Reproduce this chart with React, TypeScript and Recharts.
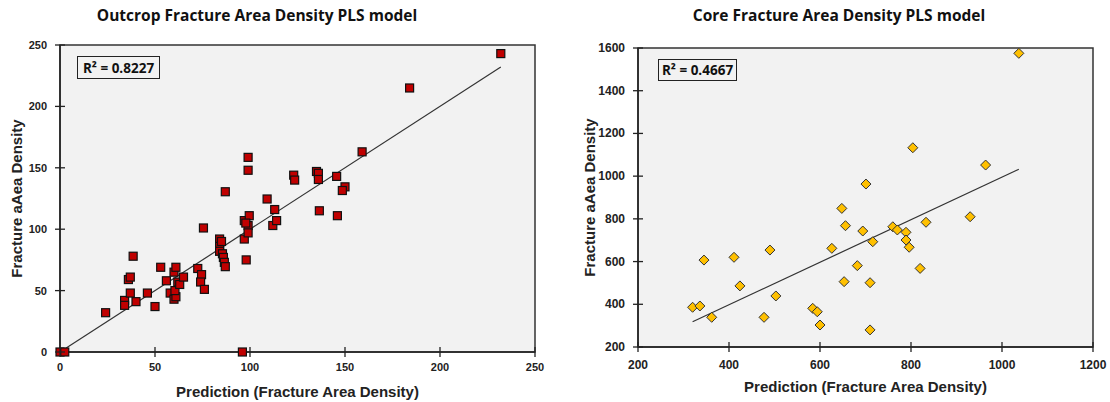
import { ScatterChart, Scatter, XAxis, YAxis, ReferenceArea, ReferenceLine } from "recharts"

// outcrop model: predicted vs measured fracture area density
const outcropPredicted = [
  0, 2.5, 96, 24, 34, 34, 40, 37, 36, 37, 38.5, 46, 50, 53, 56, 58, 60, 61, 60.5, 60, 61, 62, 63, 65,
  72.5, 74.5, 74, 76, 75.5, 84, 84, 84, 85.5, 86, 86.5, 87, 85, 87, 97, 97, 98, 99.6, 99, 99, 97.8, 99, 99,
  112, 114, 113, 109, 123, 123.5, 135, 136, 136, 145.6, 150, 148.6, 136.5, 146, 159, 184, 232,
]
const outcropMeasured = [
  0, 0, 0, 32, 42, 38, 41, 48, 59, 61, 78, 48, 37, 69, 58, 48, 43, 45, 50, 65, 69, 57, 55, 61,
  68, 63, 57, 51, 101, 92, 86, 82, 80, 77, 73, 69.5, 90, 130.5, 107, 92, 75, 111, 103, 97, 105, 158.5, 148,
  103, 107, 116, 124.6, 144, 140, 147, 145.5, 140.5, 143, 134.5, 131.5, 115, 111, 163, 215, 243,
]
const outcropFitX = [0, 232]
const outcropFitY = [0, 232]
const outcropTicks = [0, 50, 100, 150, 200, 250]

// core model
const corePredicted = [
  320, 336, 362, 345, 411, 424, 490, 503, 477, 584, 594, 600, 626, 648, 656, 653, 682, 694, 701, 716,
  710, 710, 760, 770, 789, 789, 796, 804, 820, 833, 930, 964, 1037,
]
const coreMeasured = [
  386, 392, 339, 607, 620, 486, 654, 439, 339, 381, 365, 303, 662, 849, 768, 506, 581, 743, 963, 693,
  501, 280, 763, 748, 737, 701, 667, 1133, 568, 784, 810, 1052, 1575,
]
const coreFitX = [320, 1037]
const coreFitY = [318, 1032]
const coreXTicks = [200, 400, 600, 800, 1000, 1200]
const coreYTicks = [200, 400, 600, 800, 1000, 1200, 1400, 1600]

const outcropData = outcropPredicted.map((x, i) => ({ x, y: outcropMeasured[i] }))
const coreData = corePredicted.map((x, i) => ({ x, y: coreMeasured[i] }))

const AXIS = "#222"
const FONT = "'Liberation Sans', Arial, sans-serif"

const makeXTick = (fontSize: number, dy: number) => (p: any) => (
  <g>
    <line x1={p.x} x2={p.x} y1={p.y - 5} y2={p.y + 5} stroke={AXIS} strokeWidth={1.3} />
    <text x={p.x} y={p.y + dy} textAnchor="middle" fontSize={fontSize} fontWeight="bold" fill={AXIS} fontFamily={FONT}>
      {p.payload.value}
    </text>
  </g>
)

const makeYTick = (fontSize: number) => (p: any) => (
  <g>
    <line x1={p.x - 5} x2={p.x + 5} y1={p.y} y2={p.y} stroke={AXIS} strokeWidth={1.3} />
    <text x={p.x - 13} y={p.y + 4} textAnchor="end" fontSize={fontSize} fontWeight="bold" fill={AXIS} fontFamily={FONT}>
      {p.payload.value}
    </text>
  </g>
)

const Square = (p: any) => (
  <rect x={p.cx - 4} y={p.cy - 4} width={8} height={8} fill="#c00000" stroke="#111" strokeWidth={1.2} />
)

const Diamond = (p: any) => (
  <polygon
    points={`${p.cx},${p.cy - 5} ${p.cx + 5},${p.cy} ${p.cx},${p.cy + 5} ${p.cx - 5},${p.cy}`}
    fill="#ffc000"
    stroke="#333"
    strokeWidth={1}
  />
)

const labelStyle = { fontSize: 15, fontWeight: "bold", fill: AXIS, fontFamily: FONT }

const titleStyle: any = {
  position: "absolute",
  top: 5,
  fontSize: 15.5,
  lineHeight: "20px",
  fontWeight: "bold",
  fontFamily: "'Open Sans', sans-serif",
  color: "#111",
  whiteSpace: "nowrap",
  transform: "translateX(-50%)",
}

const boxStyle: any = {
  position: "absolute",
  border: "1.5px solid #222",
  background: "#f2f2f2",
  fontFamily: "'Open Sans', sans-serif",
  fontWeight: "bold",
  fontSize: 13.5,
  color: "#111",
  display: "flex",
  alignItems: "center",
  justifyContent: "center",
  boxSizing: "border-box",
}

export default function App() {
  return (
    <div style={{ position: "absolute", left: 0, top: 0, width: 1110, height: 402, background: "#fff" }}>
      <div style={{ position: "absolute", left: 0, top: 0 }}>
        <ScatterChart width={555} height={402} margin={{ top: 45, right: 20, bottom: 0, left: 0 }}>
          <ReferenceArea x1={0} x2={250} y1={0} y2={250} fill="#f2f2f2" fillOpacity={1} stroke="#333" strokeWidth={1.5} />
          <XAxis
            type="number"
            dataKey="x"
            domain={[0, 250]}
            ticks={outcropTicks}
            height={50}
            tickSize={0}
            tickMargin={0}
            tickLine={false}
            axisLine={{ stroke: AXIS, strokeWidth: 1.5 }}
            tick={makeXTick(11, 19)}
            label={{ value: "Prediction (Fracture Area Density)", position: "insideBottom", offset: 5, style: labelStyle }}
          />
          <YAxis
            type="number"
            dataKey="y"
            domain={[0, 250]}
            ticks={outcropTicks}
            width={60}
            tickSize={0}
            tickMargin={0}
            tickLine={false}
            axisLine={{ stroke: AXIS, strokeWidth: 1.5 }}
            tick={makeYTick(11)}
            label={{ value: "Fracture aAea Density", angle: -90, position: "insideLeft", offset: 17, style: { ...labelStyle, textAnchor: "middle" } }}
          />
          <ReferenceLine
            segment={[
              { x: outcropFitX[0], y: outcropFitY[0] },
              { x: outcropFitX[1], y: outcropFitY[1] },
            ]}
            stroke="#333"
            strokeWidth={1.2}
          />
          <Scatter data={outcropData} shape={Square} isAnimationActive={false} />
        </ScatterChart>
      </div>
      <div style={{ position: "absolute", left: 555, top: 0 }}>
        <ScatterChart width={555} height={402} margin={{ top: 48, right: 17, bottom: 0, left: 0 }}>
          <ReferenceArea x1={200} x2={1200} y1={200} y2={1600} fill="#f2f2f2" fillOpacity={1} stroke="#333" strokeWidth={1.5} />
          <XAxis
            type="number"
            dataKey="x"
            domain={[200, 1200]}
            ticks={coreXTicks}
            height={55}
            tickSize={0}
            tickMargin={0}
            tickLine={false}
            axisLine={{ stroke: AXIS, strokeWidth: 1.5 }}
            tick={makeXTick(12, 22)}
            label={{ value: "Prediction (Fracture Area Density)", position: "insideBottom", offset: 10, style: labelStyle }}
          />
          <YAxis
            type="number"
            dataKey="y"
            domain={[200, 1600]}
            ticks={coreYTicks}
            width={83}
            tickSize={0}
            tickMargin={0}
            tickLine={false}
            axisLine={{ stroke: AXIS, strokeWidth: 1.5 }}
            tick={makeYTick(12)}
            label={{ value: "Fracture aAea Density", angle: -90, position: "insideLeft", offset: 35, style: { ...labelStyle, textAnchor: "middle" } }}
          />
          <ReferenceLine
            segment={[
              { x: coreFitX[0], y: coreFitY[0] },
              { x: coreFitX[1], y: coreFitY[1] },
            ]}
            stroke="#333"
            strokeWidth={1.2}
          />
          <Scatter data={coreData} shape={Diamond} isAnimationActive={false} />
        </ScatterChart>
      </div>
      <div style={{ ...titleStyle, left: 257 }}>Outcrop Fracture Area Density PLS model</div>
      <div style={{ ...titleStyle, left: 839 }}>Core Fracture Area Density PLS model</div>
      <div style={{ ...boxStyle, left: 77, top: 56, width: 83, height: 23 }}>
        R² = 0.8227
      </div>
      <div style={{ ...boxStyle, left: 658, top: 59, width: 79, height: 22 }}>
        R² = 0.4667
      </div>
    </div>
  )
}
